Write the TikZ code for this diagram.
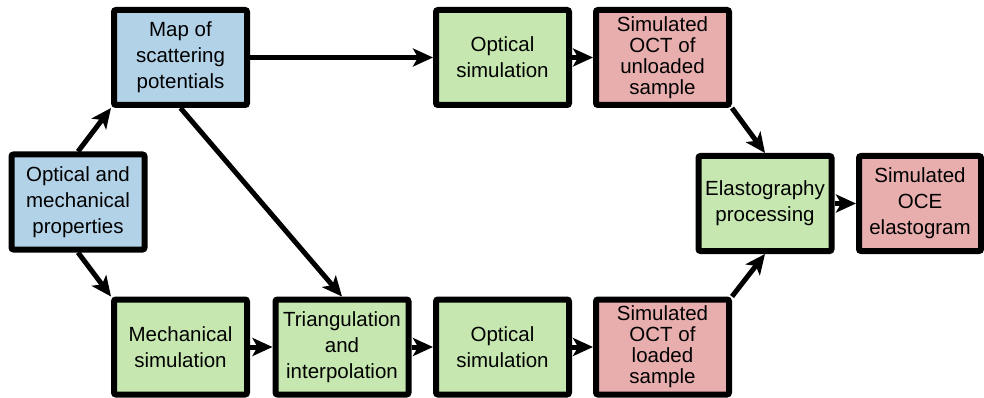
\documentclass[tikz,border=0pt]{standalone}
\usepackage{fontspec}
\setmainfont{Liberation Sans}
\usepackage{tikz}
\usetikzlibrary{arrows.meta}

\definecolor{propblue}{RGB}{178,210,232}
\definecolor{simgreen}{RGB}{198,232,176}
\definecolor{outred}{RGB}{232,174,174}

\begin{document}
\begin{tikzpicture}
		[x=1pt, y=-1pt, thick,
		box/.style={rectangle, draw=black, line width=6pt, rounded corners=2pt, align=center,
			minimum width=133pt, minimum height=95pt, inner sep=0pt,
			font=\fontsize{20.5}{26}\selectfont},
		tallbox/.style={box, font=\fontsize{20.5}{21}\selectfont},
		flow/.style={line width=5pt, -{Stealth[length=20pt, width=18pt, inset=5pt]}}]
		\useasboundingbox (0,0) rectangle (984,398);
		% inputs
		\node [box, fill=propblue](props) at (78,202) {Optical and\\mechanical\\properties};
		\node [box, fill=propblue](scatmap) at (180.5,57.5) {Map of\\scattering\\potentials};
		% simulation chain
		\node [box, fill=simgreen](mechsim) at (180.5,347) {Mechanical\\simulation};
		\node [box, fill=simgreen](triang) at (342,347) {Triangulation\\and\\interpolation};
		\node [box, fill=simgreen](optlo) at (502.5,347) {Optical\\simulation};
		\node [tallbox, fill=outred](octlo) at (662.5,347) {Simulated\\OCT of\\loaded\\sample};
		\node [box, fill=simgreen](optun) at (502.5,57.5) {Optical\\simulation};
		\node [tallbox, fill=outred](octun) at (662.5,57.5) {Simulated\\OCT of\\unloaded\\sample};
		\node [box, fill=simgreen](elast) at (765,203.5) {Elastography\\processing};
		\node [box, fill=outred, minimum width=122pt](oce) at (920,203.5) {Simulated\\OCE\\elastogram};
		
		\draw [flow] (props.north) -- (scatmap.south west);
		\draw [flow] (props.south) -- (mechsim.north west);
		\draw [flow] (scatmap.south) -- (triang.north);
		\foreach \from/\to in {scatmap/optun, optun/octun, mechsim/triang, triang/optlo, optlo/octlo, elast/oce}
		\draw [flow] (\from) -- (\to);
		\draw [flow] (octun.south east) -- (elast.north);
		\draw [flow] (octlo.north east) -- (elast.south);
		\end{tikzpicture}
\end{document}
